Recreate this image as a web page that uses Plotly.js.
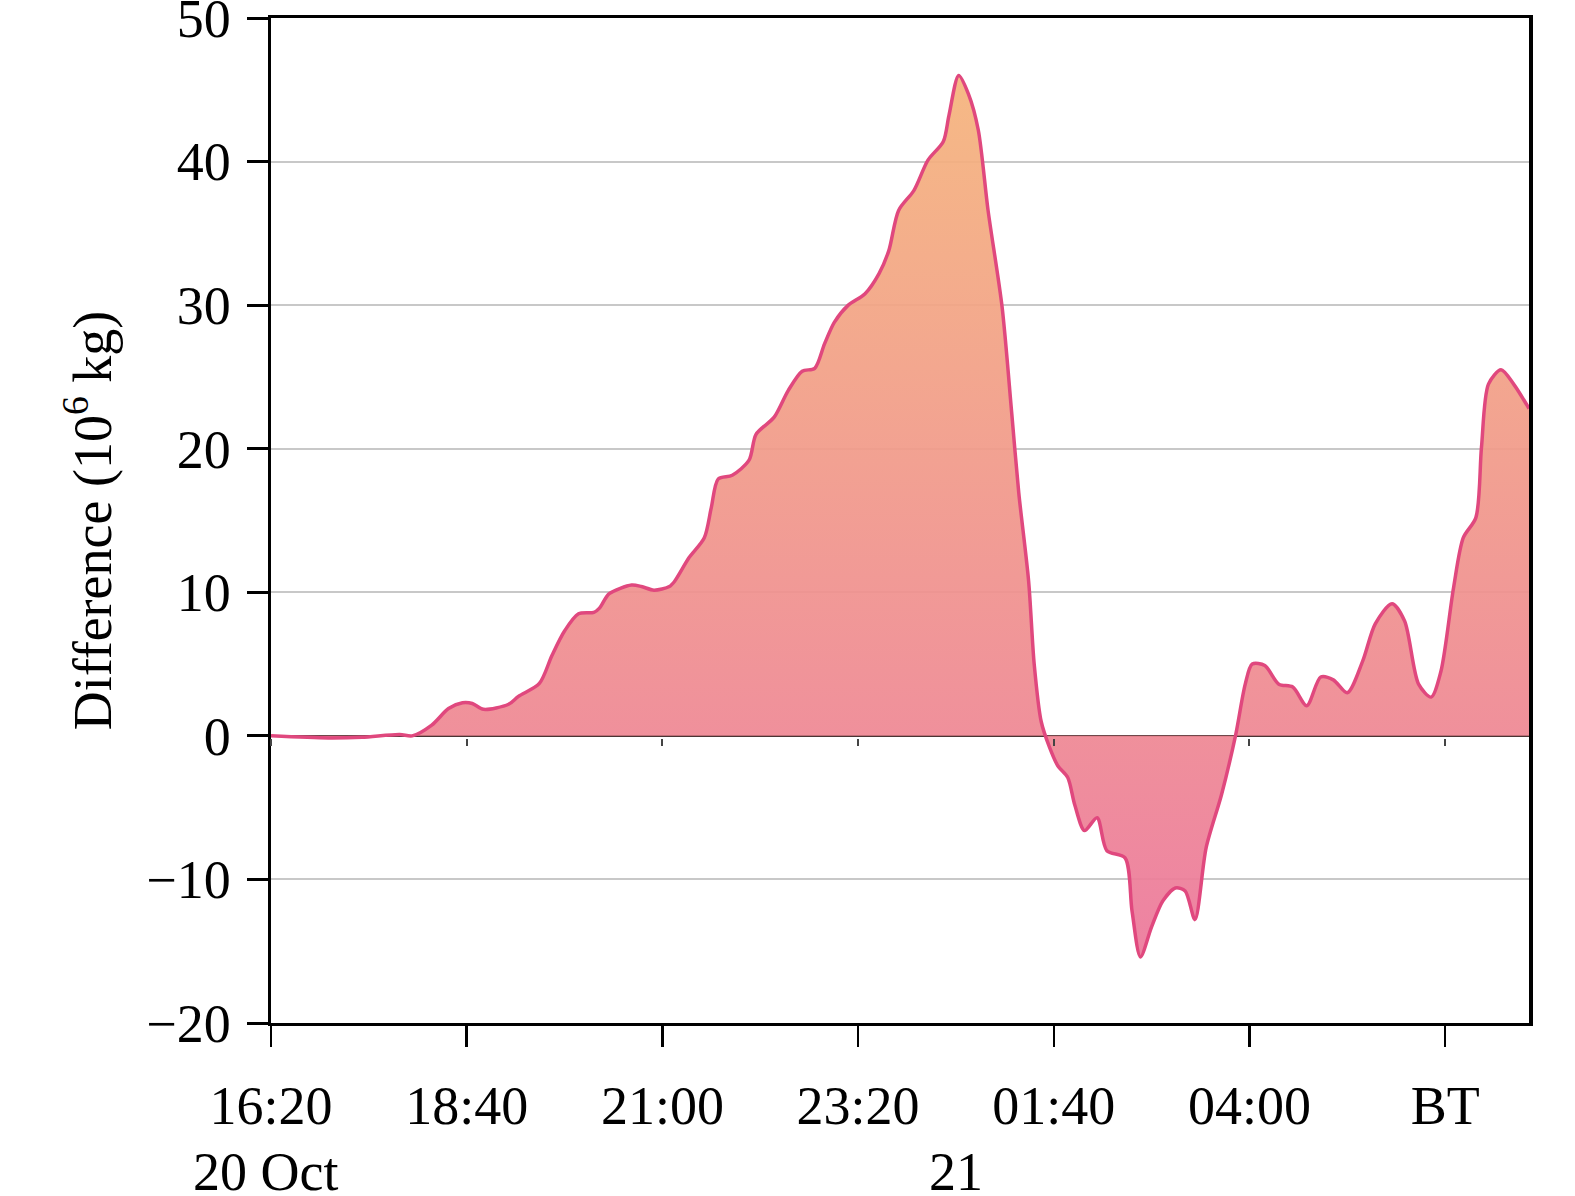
<!DOCTYPE html>
<html>
<head>
<meta charset="utf-8">
<script src="https://cdn.plot.ly/plotly-3.0.1.min.js"></script>
<style>html,body{margin:0;padding:0;background:#fff;}#chart{width:1575px;height:1196px;}</style>
</head>
<body>
<div id="chart"></div>
<script>
// Beijing Time (BT), 20-21 October
const times = [
  '2023-10-20 16:20','2023-10-20 17:01','2023-10-20 17:25','2023-10-20 17:52','2023-10-20 18:01',
  '2023-10-20 18:15','2023-10-20 18:27','2023-10-20 18:37','2023-10-20 18:44','2023-10-20 18:52',
  '2023-10-20 19:10','2023-10-20 19:17','2023-10-20 19:32','2023-10-20 19:41','2023-10-20 19:50',
  '2023-10-20 20:00','2023-10-20 20:11','2023-10-20 20:15','2023-10-20 20:22','2023-10-20 20:38',
  '2023-10-20 20:45','2023-10-20 20:54','2023-10-20 21:05','2023-10-20 21:09','2023-10-20 21:19',
  '2023-10-20 21:30','2023-10-20 21:35','2023-10-20 21:40','2023-10-20 21:50','2023-10-20 22:02',
  '2023-10-20 22:07','2023-10-20 22:20','2023-10-20 22:30','2023-10-20 22:40','2023-10-20 22:49',
  '2023-10-20 22:56','2023-10-20 23:03','2023-10-20 23:13','2023-10-20 23:25','2023-10-20 23:35',
  '2023-10-20 23:42','2023-10-20 23:49','2023-10-21 00:00','2023-10-21 00:10','2023-10-21 00:21',
  '2023-10-21 00:25','2023-10-21 00:32','2023-10-21 00:39','2023-10-21 00:46','2023-10-21 00:53',
  '2023-10-21 01:03','2023-10-21 01:10','2023-10-21 01:15','2023-10-21 01:22','2023-10-21 01:26',
  '2023-10-21 01:31','2023-10-21 01:37','2023-10-21 01:43','2023-10-21 01:50','2023-10-21 01:55',
  '2023-10-21 02:02','2023-10-21 02:11','2023-10-21 02:18','2023-10-21 02:31','2023-10-21 02:36',
  '2023-10-21 02:42','2023-10-21 02:50','2023-10-21 02:58','2023-10-21 03:07','2023-10-21 03:14',
  '2023-10-21 03:21','2023-10-21 03:29','2023-10-21 03:40','2023-10-21 03:50','2023-10-21 03:57',
  '2023-10-21 04:02','2023-10-21 04:11','2023-10-21 04:21','2023-10-21 04:31','2023-10-21 04:41',
  '2023-10-21 04:51','2023-10-21 05:00','2023-10-21 05:10','2023-10-21 05:21','2023-10-21 05:30',
  '2023-10-21 05:42','2023-10-21 05:51','2023-10-21 06:01','2023-10-21 06:10','2023-10-21 06:17',
  '2023-10-21 06:26','2023-10-21 06:33','2023-10-21 06:42','2023-10-21 06:46','2023-10-21 06:51',
  '2023-10-21 07:00','2023-10-21 07:09','2023-10-21 07:20'
];
// Difference (10^6 kg)
const difference = [
  0.0, -0.15, -0.1, 0.1, 0.0,
  0.75, 1.9, 2.3, 2.25, 1.85,
  2.2, 2.75, 3.65, 5.6, 7.3,
  8.5, 8.6, 8.9, 9.9, 10.5,
  10.4, 10.15, 10.4, 10.8, 12.4,
  13.8, 15.9, 17.9, 18.15, 19.2,
  21.0, 22.2, 24.05, 25.4, 25.6,
  27.3, 28.8, 30.0, 30.8, 32.2,
  33.8, 36.6, 38.0, 40.1, 41.4,
  43.2, 46.0, 44.7, 42.2, 36.6,
  29.9, 22.4, 16.9, 10.8, 5.0,
  1.0, -0.8, -2.1, -2.9, -4.8,
  -6.6, -5.7, -8.0, -8.5, -12.2,
  -15.4, -13.3, -11.5, -10.6, -10.8,
  -12.8, -7.8, -4.1, 0.0, 3.6,
  5.0, 4.9, 3.6, 3.4, 2.1,
  4.1, 3.9, 3.0, 5.2, 7.8,
  9.2, 8.0, 3.6, 2.7, 4.5,
  10.3, 13.8, 15.2, 20.1, 24.5,
  25.5, 24.5, 22.8
];
const tickTimes = ['2023-10-20 16:20','2023-10-20 18:40','2023-10-20 21:00','2023-10-20 23:20',
                   '2023-10-21 01:40','2023-10-21 04:00','2023-10-21 06:20'];
const tickLabels = ['16:20','18:40','21:00','23:20','01:40','04:00','BT'];
const yTicks = [-20,-10,0,10,20,30,40,50];
const dateLabels = ['20 Oct', '21'];
const dateLabelTimes = ['2023-10-20 16:20', '2023-10-21 00:30'];
const xRange = ['2023-10-20 16:20','2023-10-21 07:20'];
const yRange = [-20, 50];

const FONT = 'Liberation Serif, Times New Roman, serif';
const FS = 54;

const traces = [
  {
    type: 'scatter', mode: 'lines',
    x: times, y: difference,
    line: {shape: 'spline', smoothing: 0.8, color: '#E0487E', width: 3.5},
    fill: 'tozeroy',
    fillgradient: {
      type: 'vertical', start: -16, stop: 46,
      colorscale: [[0, 'rgba(236,120,156,0.93)'], [1, 'rgba(245,180,124,0.93)']]
    },
    hoverinfo: 'skip'
  },
  { type: 'scatter', mode: 'lines', x: [times[0]], y: [null], xaxis: 'x2', yaxis: 'y', hoverinfo: 'skip', showlegend: false }
];

const layout = {
  width: 1575, height: 1196,
  margin: {l: 271, r: 46, t: 18, b: 173},
  paper_bgcolor: '#ffffff', plot_bgcolor: '#ffffff',
  showlegend: false,
  font: {family: FONT, size: FS, color: '#000'},
  xaxis: {
    type: 'date', range: xRange,
    tickmode: 'array', tickvals: tickTimes, ticktext: tickLabels,
    ticks: 'outside', ticklen: 21, tickwidth: 2.5, tickcolor: '#000',
    ticklabelstandoff: 12,
    ticklabeloverflow: 'allow',
    showline: true, linecolor: '#000', linewidth: 3, mirror: true,
    showgrid: false, zeroline: false,
    tickfont: {family: FONT, size: FS, color: '#000'}
  },
  xaxis2: {
    type: 'date', overlaying: 'x', matches: 'x', anchor: 'free', position: 0.2833, side: 'bottom',
    tickmode: 'array', tickvals: tickTimes,
    ticks: 'outside', ticklen: 7, tickwidth: 2, tickcolor: '#444',
    showticklabels: false, showline: false, showgrid: false, zeroline: false
  },
  yaxis: {
    range: yRange, tickmode: 'array', tickvals: yTicks,
    ticks: 'outside', ticklen: 21, tickwidth: 3, tickcolor: '#000',
    ticklabelstandoff: 5,
    ticklabeloverflow: 'allow',
    showline: true, linecolor: '#000', linewidth: 3.5, mirror: true,
    showgrid: true, gridcolor: '#c8c8c8', gridwidth: 2,
    zeroline: true, zerolinecolor: '#4a3434', zerolinewidth: 2.5,
    tickfont: {family: FONT, size: FS, color: '#000'},
    title: {text: 'Difference (10<sup>6</sup> kg)', font: {family: FONT, size: FS, color: '#000'}, standoff: 18}
  },
  annotations: [
    {x: dateLabelTimes[0], xref: 'x', xshift: -6, y: -0.148, yref: 'paper', text: dateLabels[0], showarrow: false,
     xanchor: 'center', yanchor: 'middle', height: 50, borderpad: 0, font: {family: FONT, size: FS, color: '#000'}},
    {x: dateLabelTimes[1], xref: 'x', y: -0.148, yref: 'paper', text: dateLabels[1], showarrow: false,
     xanchor: 'center', yanchor: 'middle', height: 50, borderpad: 0, font: {family: FONT, size: FS, color: '#000'}}
  ]
};

Plotly.newPlot('chart', traces, layout, {displayModeBar: false, staticPlot: true});
</script>
</body>
</html>
